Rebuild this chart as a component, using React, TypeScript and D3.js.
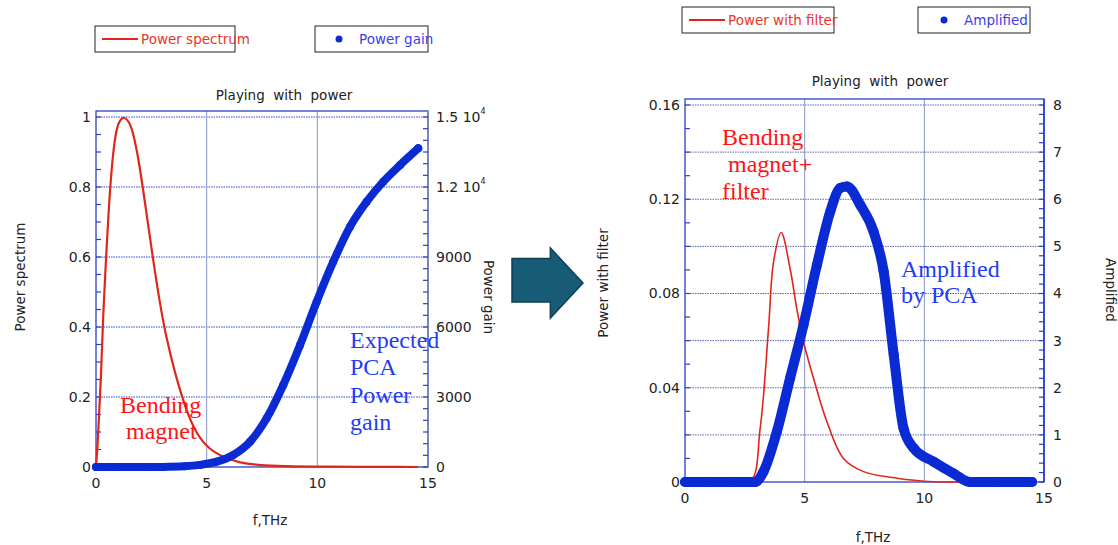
import React, { useEffect, useRef } from 'react';
import * as d3 from 'd3';

// left panel: bending magnet spectrum and expected PCA gain
const spectrumFreq = [0, 0.08, 0.23, 0.33, 0.45, 0.57, 0.72, 0.9, 1.08, 1.28, 1.46, 1.66, 1.96, 2.26, 2.56, 2.86, 3.16, 3.61, 4.07, 4.52, 5.12, 5.87, 6.5, 7.26, 8.5, 10, 14.55];
const powerSpectrum = [0, 0.068, 0.258, 0.449, 0.59, 0.734, 0.868, 0.963, 0.993, 1.0, 0.99, 0.963, 0.868, 0.734, 0.601, 0.477, 0.372, 0.258, 0.163, 0.096, 0.049, 0.025, 0.012, 0.006, 0.002, 0.001, 0];
const gainFreq = [0, 1, 2, 3, 4, 4.7, 5.45, 6.2, 6.96, 7.71, 8.46, 9.22, 9.97, 10.72, 11.48, 12.23, 12.98, 13.74, 14.56];
const powerGain = [0, 0, 0, 5, 30, 90, 227, 514, 1084, 2086, 3514, 5229, 7086, 8800, 10300, 11371, 12229, 12943, 13657];

// right panel: filtered spectrum and amplified output
const filterFreq = [0, 1.5, 2.72, 3.14, 3.49, 3.7, 4.02, 4.39, 4.67, 4.95, 5.37, 5.93, 6.62, 7.46, 8.86, 10.4, 11.2, 14.5];
const powerFilter = [0, 0, 0, 0.0228, 0.0652, 0.0934, 0.1059, 0.0906, 0.0736, 0.0595, 0.044, 0.0256, 0.01, 0.0044, 0.0016, 0.0001, 0, 0];
const ampFreq = [0, 1, 2, 2.93, 3.28, 3.84, 4.39, 4.95, 5.51, 6.07, 6.49, 6.77, 7.32, 7.88, 8.3, 8.72, 9.13, 9.55, 10.39, 11.23, 11.92, 13, 14.5];
const amplified = [0, 0, 0, 0, 0.22, 1.07, 2.2, 3.33, 4.6, 5.74, 6.24, 6.27, 5.88, 5.31, 4.47, 2.7, 1.14, 0.72, 0.43, 0.18, 0, 0, 0];

const freqTicks = [0, 5, 10, 15];
const spectrumTicks = [0, 0.2, 0.4, 0.6, 0.8, 1];
const spectrumTickLabels = ['0', '0.2', '0.4', '0.6', '0.8', '1'];
const gainTicks = [0, 3000, 6000, 9000, 12000, 15000];
const gainTickLabels = ['0', '3000', '6000', '9000', '1.2 10', '1.5 10'];
const filterTicks = [0, 0.04, 0.08, 0.12, 0.16];
const filterTickLabels = ['0', '0.04', '0.08', '0.12', '0.16'];
const ampTicks = [0, 1, 2, 3, 4, 5, 6, 7, 8];

const SANS = "'DejaVu Sans', sans-serif";
const SERIF = "'Liberation Serif', 'Times New Roman', serif";
const RED = '#e0261a';
const BLUE = '#0a2ad4';
const FRAME = '#2b3fc4';

const zip = (xs: number[], ys: number[]) => xs.map((f, i) => ({ f, v: ys[i] }));

function drawPanel(svg: any, p: any) {
  const x = d3.scaleLinear().domain([0, 15]).range([p.left, p.right]);
  const yL = d3.scaleLinear().domain([0, p.leftMax]).range([p.bottom, p.top]);
  const yR = d3.scaleLinear().domain([0, p.rightMax]).range([p.bottom, p.top]);
  const g = svg.append('g');

  // dotted horizontal grid
  g.append('g').selectAll('line').data(p.grid).join('line')
    .attr('x1', p.left).attr('x2', p.right)
    .attr('y1', (d: number) => yL(d)).attr('y2', (d: number) => yL(d))
    .attr('stroke', p.gridColor).attr('stroke-width', 1).attr('stroke-dasharray', '1.5,1');

  // vertical grid
  g.append('g').selectAll('line').data([5, 10]).join('line')
    .attr('x1', (d: number) => x(d)).attr('x2', (d: number) => x(d))
    .attr('y1', p.frameTop).attr('y2', p.bottom)
    .attr('stroke', '#8a94c8').attr('stroke-width', 1);

  g.append('rect')
    .attr('x', p.left).attr('y', p.frameTop)
    .attr('width', p.right - p.left).attr('height', p.bottom - p.frameTop)
    .attr('fill', 'none').attr('stroke', FRAME).attr('stroke-width', 1.3);
  g.append('line')
    .attr('x1', p.right).attr('x2', p.right).attr('y1', p.frameTop).attr('y2', p.bottom)
    .attr('stroke', p.rightEdge).attr('stroke-width', 1.6);

  // minor ticks, inside the frame
  const nL = Math.round(p.leftMax / p.leftMinor);
  g.append('g').selectAll('line').data(d3.range(0, nL + 1).map(i => i * p.leftMinor)).join('line')
    .attr('x1', p.left).attr('x2', p.left + 5)
    .attr('y1', (d: number) => yL(d)).attr('y2', (d: number) => yL(d))
    .attr('stroke', FRAME).attr('stroke-width', 1.2);
  const nR = Math.round(p.rightMax / p.rightMinor);
  g.append('g').selectAll('line').data(d3.range(0, nR + 1).map(i => i * p.rightMinor)).join('line')
    .attr('x1', p.right).attr('x2', p.right - 5)
    .attr('y1', (d: number) => yR(d)).attr('y2', (d: number) => yR(d))
    .attr('stroke', FRAME).attr('stroke-width', 1.2);

  // tick labels
  const lab = g.append('g').attr('font-family', SANS).attr('font-size', 14).attr('fill', '#222');
  lab.selectAll('.lt').data(p.leftTicks).join('text')
    .attr('x', p.left - 5).attr('y', (d: number) => yL(d)).attr('dy', '0.35em')
    .attr('text-anchor', 'end').text((d: number, i: number) => p.leftLabels[i]);
  const rt = lab.selectAll('.rt').data(p.rightTicks).join('text')
    .attr('x', p.right + p.rightPad).attr('y', (d: number) => yR(d)).attr('dy', '0.35em')
    .attr('text-anchor', 'start');
  rt.append('tspan').text((d: number, i: number) => p.rightLabels[i]);
  rt.filter((d: number) => d >= 10000).append('tspan')
    .attr('dx', 0).attr('dy', -8).attr('font-size', 8).text('4');
  lab.selectAll('.xt').data(freqTicks).join('text')
    .attr('x', (d: number) => x(d)).attr('y', p.bottom + 16).attr('dy', '0.35em')
    .attr('text-anchor', 'middle').text((d: number) => d);

  // axis titles
  const t = g.append('g').attr('font-family', SANS).attr('font-size', 13.5).attr('fill', '#222');
  t.append('text').attr('x', p.titleX).attr('y', p.titleY).attr('text-anchor', 'middle')
    .style('white-space', 'pre').text('Playing  with  power');
  t.append('text').attr('x', p.xLabelX).attr('y', p.xLabelY).attr('text-anchor', 'middle').text('f,THz');
  t.append('text').attr('transform', `translate(${p.yLabelX},${p.yLabelY}) rotate(-90)`)
    .attr('text-anchor', 'middle').text(p.leftName);
  t.append('text').attr('transform', `translate(${p.y2LabelX},${p.y2LabelY}) rotate(90)`)
    .attr('text-anchor', 'middle').text(p.rightName);

  // red series
  const redLine = d3.line<any>().x(d => x(d.f)).y(d => yL(d.v)).curve(p.redCurve);
  g.append('path').attr('d', redLine(p.redData)).attr('fill', 'none')
    .attr('stroke', RED).attr('stroke-width', p.redWidth);

  // blue series, drawn as dense dots
  const blueLine = d3.line<any>().x(d => x(d.f)).y(d => yR(d.v)).curve(d3.curveMonotoneX);
  g.append('path').attr('d', blueLine(p.blueData)).attr('fill', 'none')
    .attr('stroke', BLUE).attr('stroke-width', p.blueWidth)
    .attr('stroke-linecap', 'round').attr('stroke-linejoin', 'round');
  g.append('g').selectAll('circle').data(p.blueData).join('circle')
    .attr('cx', (d: any) => x(d.f)).attr('cy', (d: any) => yR(d.v))
    .attr('r', p.blueWidth / 2).attr('fill', BLUE);

  // legends
  const lg = g.append('g').attr('font-family', SANS).attr('font-size', 13.5);
  lg.append('rect').attr('x', p.leg1[0]).attr('y', p.legY).attr('width', p.leg1[1]).attr('height', 26)
    .attr('fill', 'none').attr('stroke', '#222').attr('stroke-width', 1);
  lg.append('line').attr('x1', p.leg1[0] + 7).attr('x2', p.leg1[0] + 43)
    .attr('y1', p.legY + 13).attr('y2', p.legY + 13).attr('stroke', RED).attr('stroke-width', 2);
  lg.append('text').attr('x', p.leg1[0] + 46).attr('y', p.legY + 13).attr('dy', '0.35em')
    .attr('fill', '#e8352a').text(p.leftName);
  lg.append('rect').attr('x', p.leg2[0]).attr('y', p.legY).attr('width', p.leg2[1]).attr('height', 26)
    .attr('fill', 'none').attr('stroke', '#222').attr('stroke-width', 1);
  lg.append('circle').attr('cx', p.leg2[0] + p.dotDx).attr('cy', p.legY + 13).attr('r', 3.5).attr('fill', BLUE);
  lg.append('text').attr('x', p.leg2[0] + p.dotDx + 20).attr('y', p.legY + 13).attr('dy', '0.35em')
    .attr('fill', '#3a3ee8').text(p.rightName);

  // annotations
  const an = g.append('g').attr('font-family', SERIF).attr('font-size', 24);
  p.notes.forEach((n: any) => {
    an.append('text').attr('x', n.x).attr('y', n.y).attr('fill', n.color)
      .style('white-space', 'pre').text(n.text);
  });
}

const App = () => {
  const ref = useRef<SVGSVGElement | null>(null);

  useEffect(() => {
    const svg = d3.select(ref.current);
    svg.selectAll('*').remove();

    drawPanel(svg, {
      left: 96, right: 428, top: 117, bottom: 467, frameTop: 111,
      leftMax: 1, rightMax: 15000, leftMinor: 0.05, rightMinor: 500,
      grid: [0.2, 0.4, 0.6, 0.8, 1], gridColor: '#2a46d6', rightEdge: '#7d86c4',
      leftTicks: spectrumTicks, leftLabels: spectrumTickLabels,
      rightTicks: gainTicks, rightLabels: gainTickLabels, rightPad: 8,
      titleX: 284, titleY: 100, xLabelX: 270, xLabelY: 525,
      yLabelX: 25, yLabelY: 277, y2LabelX: 484, y2LabelY: 297,
      leftName: 'Power spectrum', rightName: 'Power gain',
      redData: zip(spectrumFreq, powerSpectrum), redWidth: 2.2, redCurve: d3.curveBasis,
      blueData: zip(gainFreq, powerGain), blueWidth: 8,
      legY: 26, leg1: [95, 140], leg2: [315, 113], dotDx: 24,
      notes: [
        { text: 'Bending', x: 120, y: 413, color: '#ff1414' },
        { text: 'magnet', x: 126, y: 439, color: '#ff1414' },
        { text: 'Expected', x: 350, y: 348, color: '#1f3cf5' },
        { text: 'PCA', x: 350, y: 375, color: '#1f3cf5' },
        { text: 'Power', x: 350, y: 403, color: '#1f3cf5' },
        { text: 'gain', x: 350, y: 430, color: '#1f3cf5' },
      ],
    });

    drawPanel(svg, {
      left: 685, right: 1044, top: 105, bottom: 482, frameTop: 99,
      leftMax: 0.16, rightMax: 8, leftMinor: 0.01, rightMinor: 0.2,
      grid: d3.range(1, 9).map(i => i * 0.02), gridColor: '#5868a8', rightEdge: FRAME,
      leftTicks: filterTicks, leftLabels: filterTickLabels,
      rightTicks: ampTicks, rightLabels: ampTicks.map(String), rightPad: 9,
      titleX: 880, titleY: 86, xLabelX: 873, xLabelY: 542,
      yLabelX: 608, yLabelY: 283, y2LabelX: 1106, y2LabelY: 290,
      leftName: 'Power with filter', rightName: 'Amplified',
      redData: zip(filterFreq, powerFilter), redWidth: 1.6, redCurve: d3.curveCatmullRom.alpha(0.5),
      blueData: zip(ampFreq, amplified), blueWidth: 10,
      legY: 7, leg1: [682, 152], leg2: [918, 112], dotDx: 26,
      notes: [
        { text: 'Bending', x: 722, y: 145, color: '#ff1414' },
        { text: ' magnet+', x: 722, y: 172, color: '#ff1414' },
        { text: 'filter', x: 722, y: 199, color: '#ff1414' },
        { text: 'Amplified', x: 901, y: 277, color: '#1f3cf5' },
        { text: 'by PCA', x: 901, y: 303, color: '#1f3cf5' },
      ],
    });

    // arrow between the two panels
    const ax = d3.scaleLinear().domain([0, 1]).range([512, 583]);
    const ay = d3.scaleLinear().domain([0, 1]).range([248, 318]);
    const arrow: [number, number][] = [[0, 0.15], [0.54, 0.15], [0.54, 0], [1, 0.5], [0.54, 1], [0.54, 0.77], [0, 0.77]];
    svg.append('polygon')
      .attr('points', arrow.map(([a, b]) => `${ax(a)},${ay(b)}`).join(' '))
      .attr('fill', '#185b76').attr('stroke', '#0e3f55').attr('stroke-width', 1.5);
  }, []);

  return (
    <svg ref={ref} width={1118} height={545}
      style={{ position: 'absolute', left: 0, top: 0, background: '#fff' }} />
  );
};

export default App;
